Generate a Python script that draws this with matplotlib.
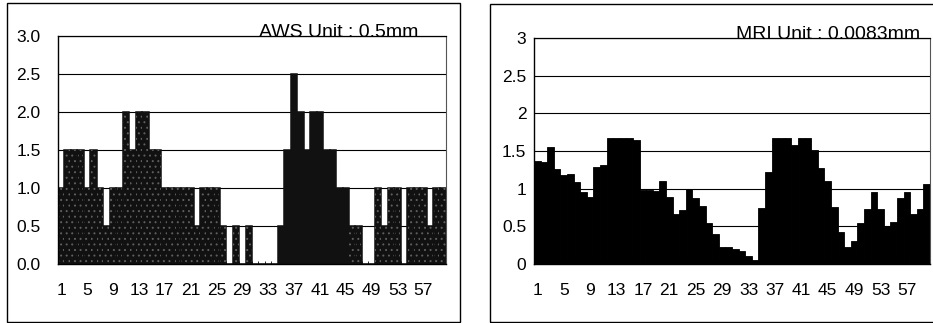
import numpy as np
import matplotlib
matplotlib.use("Agg")
import matplotlib.pyplot as plt
from matplotlib.patches import Rectangle

plt.rcParams['font.family'] = ['Liberation Sans Narrow', 'Liberation Sans', 'DejaVu Sans']
plt.rcParams['hatch.linewidth'] = 0.7

# 60 time steps, AWS in 0.5 mm steps, MRI estimate
periods = np.arange(1, 61)
aws = [1.0, 1.5, 1.5, 1.5, 1.0, 1.5, 1.0, 0.5, 1.0, 1.0,
       2.0, 1.5, 2.0, 2.0, 1.5, 1.5, 1.0, 1.0, 1.0, 1.0,
       1.0, 0.5, 1.0, 1.0, 1.0, 0.5, 0.0, 0.5, 0.0, 0.5,
       0.0, 0.0, 0.0, 0.0, 0.5, 1.5, 2.5, 2.0, 1.5, 2.0,
       2.0, 1.5, 1.5, 1.0, 1.0, 0.5, 0.5, 0.0, 0.0, 1.0,
       0.5, 1.0, 1.0, 0.0, 1.0, 1.0, 1.0, 0.5, 1.0, 1.0]
mri = [1.37, 1.35, 1.55, 1.26, 1.18, 1.20, 1.09, 0.95, 0.89, 1.29,
       1.31, 1.67, 1.67, 1.67, 1.67, 1.65, 0.98, 0.98, 0.97, 1.10,
       0.89, 0.66, 0.72, 0.99, 0.87, 0.77, 0.55, 0.40, 0.23, 0.23,
       0.20, 0.17, 0.10, 0.05, 0.75, 1.22, 1.67, 1.67, 1.67, 1.58,
       1.67, 1.67, 1.51, 1.28, 1.10, 0.76, 0.43, 0.23, 0.30, 0.55,
       0.73, 0.95, 0.73, 0.51, 0.56, 0.88, 0.95, 0.67, 0.73, 1.06]
xtick_vals = list(range(1, 60, 4))
aws_yticks = [0.0, 0.5, 1.0, 1.5, 2.0, 2.5, 3.0]
aws_ylabels = ["0.0", "0.5", "1.0", "1.5", "2.0", "2.5", "3.0"]
mri_ylabels = ["0", "0.5", "1", "1.5", "2", "2.5", "3"]
aws_title = "AWS Unit : 0.5mm"
mri_title = "MRI Unit : 0.0083mm"

W, H = 933, 323
fig = plt.figure(figsize=(W / 100, H / 100), dpi=100)

# outer boxes around each chart
fig.patches.append(Rectangle((7 / W, 1 / H), 453 / W, 319 / H, transform=fig.transFigure,
                             fill=False, edgecolor='black', linewidth=1.0))
fig.patches.append(Rectangle((490 / W, 1 / H), 460 / W, 318 / H, transform=fig.transFigure,
                             fill=False, edgecolor='black', linewidth=1.0))

ax1 = fig.add_axes([58 / W, 1 - 264 / H, 388 / W, 228 / H])
ax2 = fig.add_axes([534 / W, 1 - 264 / H, 396 / W, 226 / H])


def style(ax, ylabels, ypad):
    ax.set_xlim(0.5, 60.5)
    ax.set_ylim(0, 3)
    ax.set_axisbelow(True)
    ax.yaxis.grid(True, color='black', linewidth=0.8)
    ax.set_yticks(aws_yticks)
    ax.set_yticklabels(ylabels)
    ax.set_xticks(xtick_vals)
    ax.set_xticks(np.arange(1.5, 60, 1), minor=True)
    ax.tick_params(axis='y', length=0, pad=ypad, labelsize=12.5)
    ax.tick_params(axis='x', which='major', length=0, pad=14, labelsize=12.5)
    ax.tick_params(axis='x', which='minor', direction='in', length=2.5, width=0.6)
    ax.spines['left'].set_linewidth(1.0)
    ax.spines['bottom'].set_linewidth(1.0)
    ax.spines['top'].set_linewidth(0.9)
    ax.spines['right'].set_linestyle((0, (1, 1)))
    ax.spines['right'].set_color('#555555')
    ax.spines['right'].set_linewidth(0.8)


# AWS: dark speckled bars (solid around the main rain peak)
ax1.bar(periods, aws, width=1.0, color='#111111', edgecolor='#111111', linewidth=1.1)
speckle = np.ones(len(periods), bool)
speckle[34:45] = False
ax1.bar(periods[speckle], np.array(aws)[speckle], width=0.85, facecolor='none',
        edgecolor='#5e5e5e', hatch='...', linewidth=0)
style(ax1, aws_ylabels, 12.5)
ax1.spines['top'].set_linestyle((0, (2, 1)))
ax1.text(0.928, 0.995, aws_title, transform=ax1.transAxes, ha='right', va='baseline',
         fontsize=14)

# MRI: solid black bars
ax2.bar(periods, mri, width=1.0, color='black', edgecolor='black', linewidth=0.6)
style(ax2, mri_ylabels, 5.5)
ax2.text(0.975, 0.995, mri_title, transform=ax2.transAxes, ha='right', va='baseline',
         fontsize=14)

fig.savefig("out.png", dpi=100)
